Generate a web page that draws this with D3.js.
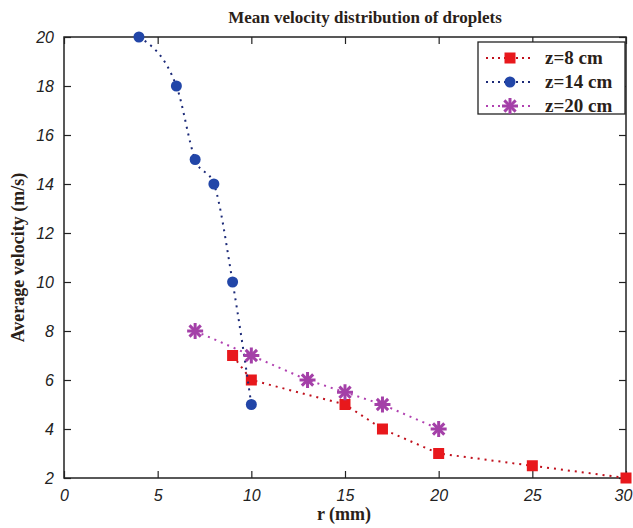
<!DOCTYPE html>
<html>
<head>
<meta charset="utf-8">
<script src="https://cdn.jsdelivr.net/npm/d3@7"></script>
<style>
  body { margin: 0; background: #fff; }
  .tick text { font-family: "Liberation Sans", Arial, sans-serif; font-style: italic; font-size: 16px; fill: #222; }
  .lbl { font-family: "Liberation Serif", "Times New Roman", serif; font-weight: bold; fill: #2a2118; }
</style>
</head>
<body>
<div id="chart"></div>
<script>
// data
var z8x = [9, 10, 15, 17, 20, 25, 30];
var z8y = [7, 6, 5, 4, 3, 2.5, 2];
var z14x = [4, 6, 7, 8, 9, 10];
var z14y = [20, 18, 15, 14, 10, 5];
var z20x = [7, 10, 13, 15, 17, 20];
var z20y = [8, 7, 6, 5.5, 5, 4];
var xTicks = [0, 5, 10, 15, 20, 25, 30];
var yTicks = [2, 4, 6, 8, 10, 12, 14, 16, 18, 20];
var seriesNames = ["z=8 cm", "z=14 cm", "z=20 cm"];

var width = 633, height = 528;
var margin = {top: 37, right: 7, bottom: 50, left: 64};

var svg = d3.select("#chart").append("svg")
  .attr("width", width)
  .attr("height", height);

var x = d3.scaleLinear().domain([0, 30]).range([margin.left, width - margin.right]);
var y = d3.scaleLinear().domain([2, 20]).range([height - margin.bottom, margin.top]);

// frame
svg.append("rect")
  .attr("x", x(0)).attr("y", y(20))
  .attr("width", x(30) - x(0)).attr("height", y(2) - y(20))
  .attr("fill", "none").attr("stroke", "#222").attr("stroke-width", 1.5);

// axes, ticks pointing in
var xAxis = svg.append("g")
  .attr("transform", "translate(0," + y(2) + ")")
  .call(d3.axisBottom(x).tickValues(xTicks).tickSizeInner(-7).tickSizeOuter(0).tickPadding(12));
var xTop = svg.append("g")
  .attr("transform", "translate(0," + y(20) + ")")
  .call(d3.axisTop(x).tickValues(xTicks).tickSizeInner(-7).tickSizeOuter(0).tickFormat(""));
var yAxis = svg.append("g")
  .attr("transform", "translate(" + x(0) + ",0)")
  .call(d3.axisLeft(y).tickValues(yTicks).tickSizeInner(-7).tickSizeOuter(0).tickPadding(10));
var yRight = svg.append("g")
  .attr("transform", "translate(" + x(30) + ",0)")
  .call(d3.axisRight(y).tickValues(yTicks).tickSizeInner(-7).tickSizeOuter(0).tickFormat(""));

[xAxis, xTop, yAxis, yRight].forEach(function(a) {
  a.select(".domain").remove();
  a.selectAll(".tick line").attr("stroke", "#222").attr("stroke-width", 1.2);
});
// last x label sits on the edge like in the original
xAxis.selectAll(".tick text").filter(function(d) { return d == 30; }).attr("dx", -3);

// titles
svg.append("text").attr("class", "lbl")
  .attr("x", 365).attr("y", 23)
  .attr("text-anchor", "middle").style("font-size", "17px")
  .text("Mean velocity distribution of droplets");
svg.append("text").attr("class", "lbl")
  .attr("x", 344).attr("y", 520)
  .attr("text-anchor", "middle").style("font-size", "18px")
  .text("r (mm)");
svg.append("text").attr("class", "lbl")
  .attr("transform", "translate(24," + ((y(2) + y(20)) / 2) + ") rotate(-90)")
  .attr("text-anchor", "middle").style("font-size", "18px")
  .text("Average velocity (m/s)");

function pts(xs, ys) {
  return xs.map(function(v, i) { return [v, ys[i]]; });
}

var series = [
  {name: seriesNames[0], data: pts(z8x, z8y), line: "#c0101c", mark: "#e8181c", shape: "square", curve: d3.curveLinear},
  {name: seriesNames[1], data: pts(z14x, z14y), line: "#1c2a78", mark: "#2246a8", shape: "circle", curve: d3.curveMonotoneX},
  {name: seriesNames[2], data: pts(z20x, z20y), line: "#b040b0", mark: "#a440a8", shape: "star", curve: d3.curveLinear}
];

function drawMarker(g, s) {
  if (s.shape == "square") {
    g.append("rect").attr("x", -5.5).attr("y", -5.5).attr("width", 11).attr("height", 11).attr("fill", s.mark);
  } else if (s.shape == "circle") {
    g.append("circle").attr("r", 5.5).attr("fill", s.mark);
  } else {
    for (var k = 0; k < 4; k++) {
      var a = k * Math.PI / 4;
      g.append("line")
        .attr("x1", -8 * Math.cos(a)).attr("y1", -8 * Math.sin(a))
        .attr("x2", 8 * Math.cos(a)).attr("y2", 8 * Math.sin(a))
        .attr("stroke", s.mark).attr("stroke-width", 3);
    }
  }
}

series.forEach(function(s) {
  var line = d3.line().curve(s.curve)
    .x(function(d) { return x(d[0]); })
    .y(function(d) { return y(d[1]); });
  svg.append("path")
    .attr("d", line(s.data))
    .attr("fill", "none")
    .attr("stroke", s.line)
    .attr("stroke-width", 2)
    .attr("stroke-dasharray", "2,5");
  s.data.forEach(function(d) {
    var g = svg.append("g").attr("transform", "translate(" + x(d[0]) + "," + y(d[1]) + ")");
    drawMarker(g, s);
  });
});

// legend
var leg = svg.append("g").attr("transform", "translate(478,42)");
leg.append("rect").attr("width", 147).attr("height", 72)
  .attr("fill", "#fff").attr("stroke", "#222").attr("stroke-width", 1.3);
series.forEach(function(s, i) {
  var row = leg.append("g").attr("transform", "translate(0," + (16 + i * 24) + ")");
  row.append("line").attr("x1", 8).attr("x2", 56).attr("y1", 0).attr("y2", 0)
    .attr("stroke", s.line).attr("stroke-width", 2).attr("stroke-dasharray", "2,4");
  drawMarker(row.append("g").attr("transform", "translate(32,0)"), s);
  row.append("text").attr("class", "lbl")
    .attr("x", 67).attr("y", 6).style("font-size", "19px")
    .text(s.name);
});
</script>
</body>
</html>
